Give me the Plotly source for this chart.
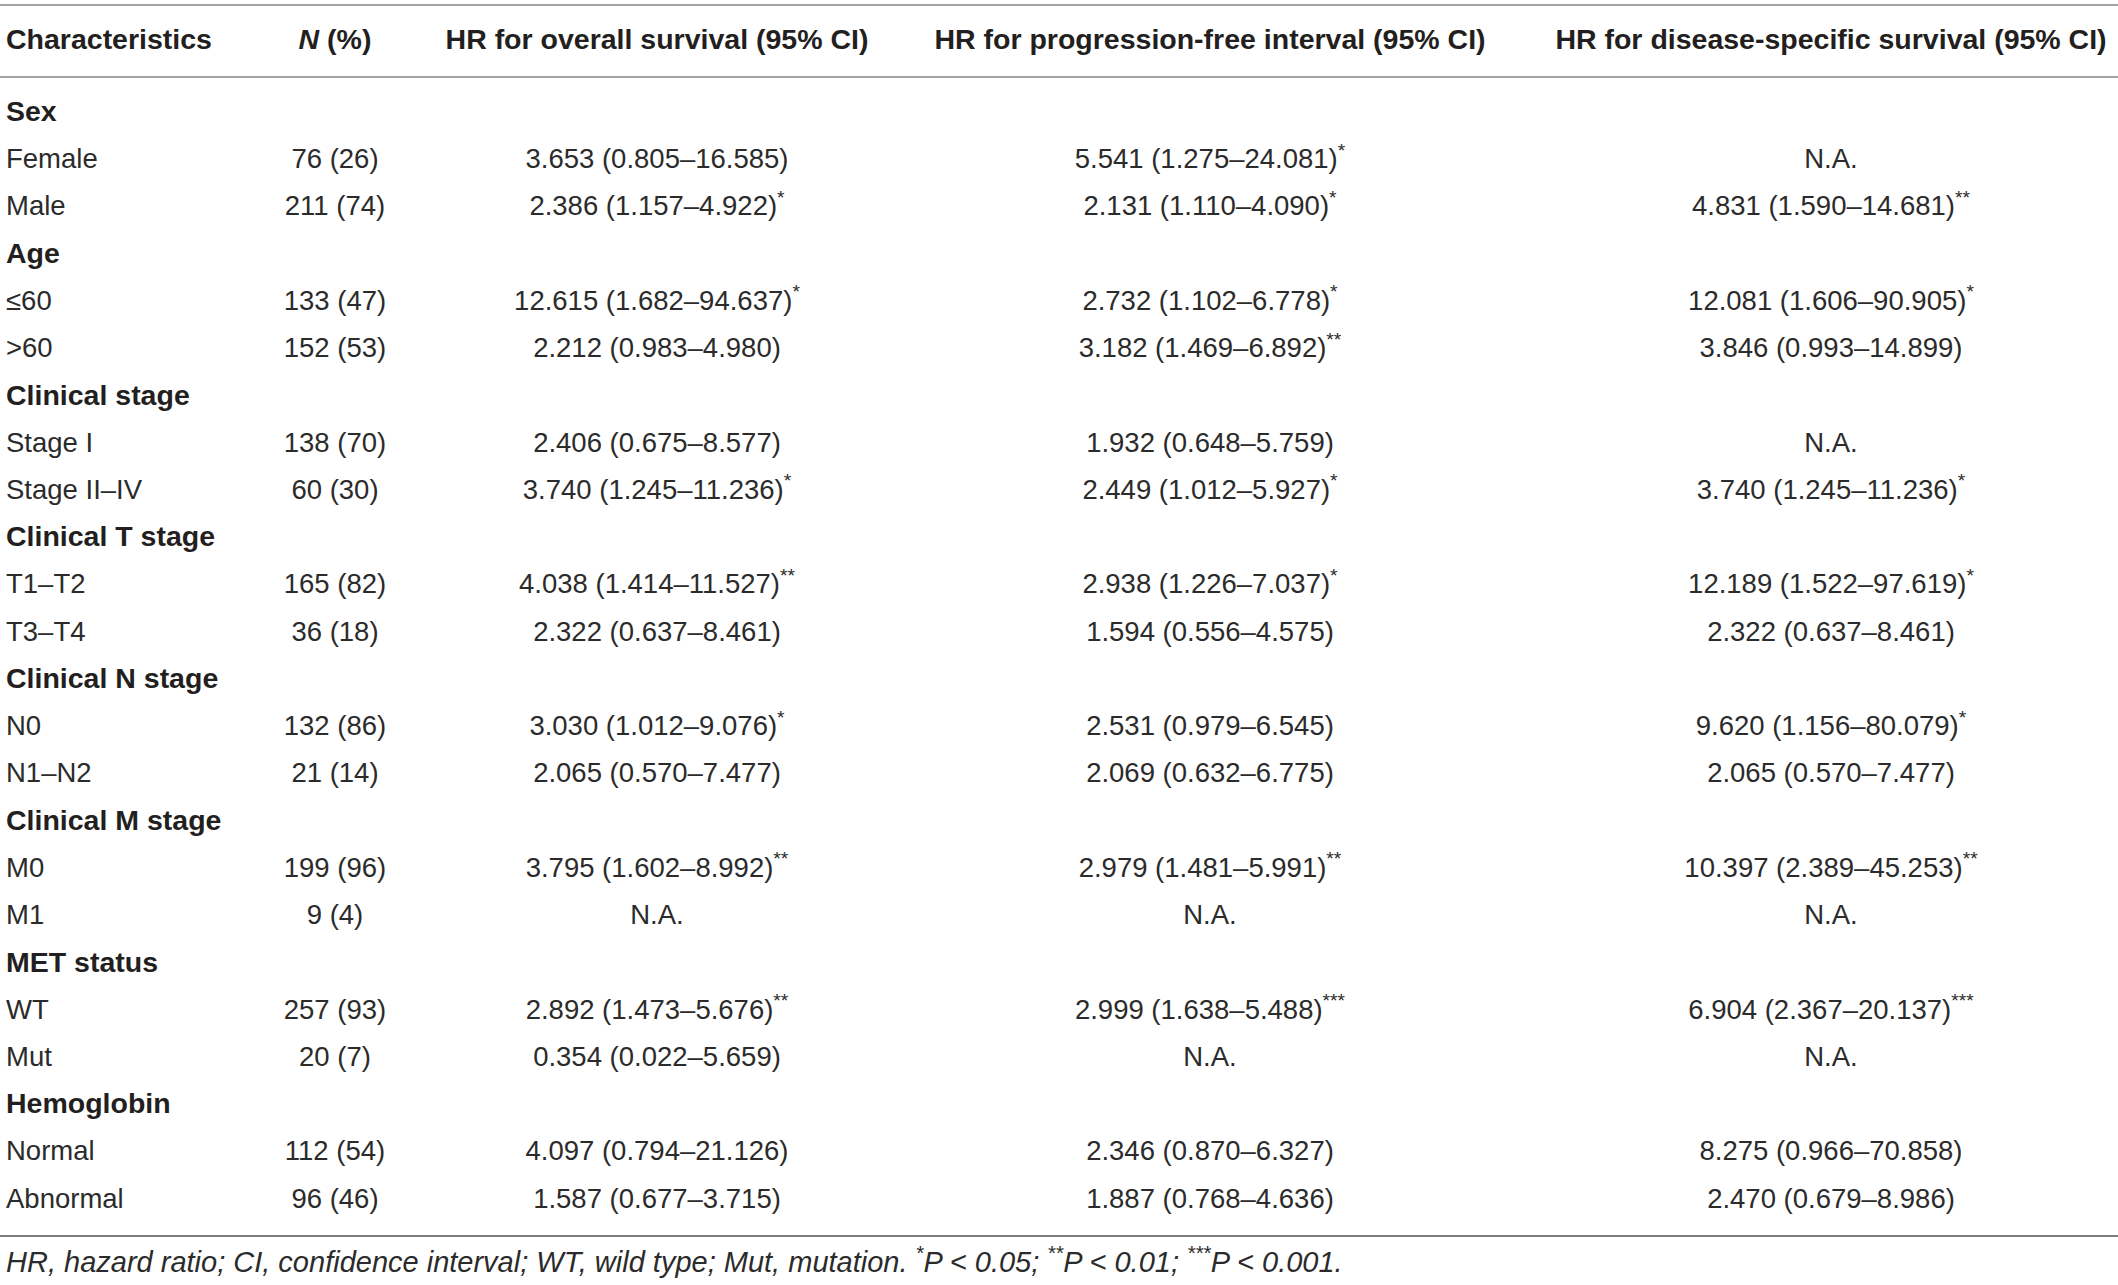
import plotly.graph_objects as go

# ---------------- data ----------------
headers = ["Characteristics", "<i>N</i> (%)", "HR for overall survival (95% CI)",
           "HR for progression-free interval (95% CI)", "HR for disease-specific survival (95% CI)"]

groups = ["Sex", "Age", "Clinical stage", "Clinical T stage", "Clinical N stage",
          "Clinical M stage", "MET status", "Hemoglobin"]
subgroups = [["Female", "Male"], ["≤60", ">60"], ["Stage I", "Stage II–IV"], ["T1–T2", "T3–T4"],
             ["N0", "N1–N2"], ["M0", "M1"], ["WT", "Mut"], ["Normal", "Abnormal"]]

n_count = [76, 211, 133, 152, 138, 60, 165, 36, 132, 21, 199, 9, 257, 20, 112, 96]
n_pct = [26, 74, 47, 53, 70, 30, 82, 18, 86, 14, 96, 4, 93, 7, 54, 46]

os_hr = ["3.653 (0.805–16.585)", "2.386 (1.157–4.922)", "12.615 (1.682–94.637)", "2.212 (0.983–4.980)",
         "2.406 (0.675–8.577)", "3.740 (1.245–11.236)", "4.038 (1.414–11.527)", "2.322 (0.637–8.461)",
         "3.030 (1.012–9.076)", "2.065 (0.570–7.477)", "3.795 (1.602–8.992)", "N.A.",
         "2.892 (1.473–5.676)", "0.354 (0.022–5.659)", "4.097 (0.794–21.126)", "1.587 (0.677–3.715)"]
os_sig = [0, 1, 1, 0, 0, 1, 2, 0, 1, 0, 2, 0, 2, 0, 0, 0]

pfi_hr = ["5.541 (1.275–24.081)", "2.131 (1.110–4.090)", "2.732 (1.102–6.778)", "3.182 (1.469–6.892)",
          "1.932 (0.648–5.759)", "2.449 (1.012–5.927)", "2.938 (1.226–7.037)", "1.594 (0.556–4.575)",
          "2.531 (0.979–6.545)", "2.069 (0.632–6.775)", "2.979 (1.481–5.991)", "N.A.",
          "2.999 (1.638–5.488)", "N.A.", "2.346 (0.870–6.327)", "1.887 (0.768–4.636)"]
pfi_sig = [1, 1, 1, 2, 0, 1, 1, 0, 0, 0, 2, 0, 3, 0, 0, 0]

dss_hr = ["N.A.", "4.831 (1.590–14.681)", "12.081 (1.606–90.905)", "3.846 (0.993–14.899)",
          "N.A.", "3.740 (1.245–11.236)", "12.189 (1.522–97.619)", "2.322 (0.637–8.461)",
          "9.620 (1.156–80.079)", "2.065 (0.570–7.477)", "10.397 (2.389–45.253)", "N.A.",
          "6.904 (2.367–20.137)", "N.A.", "8.275 (0.966–70.858)", "2.470 (0.679–8.986)"]
dss_sig = [0, 2, 1, 0, 0, 1, 1, 0, 1, 0, 2, 0, 3, 0, 0, 0]

footnote = ("<i>HR, hazard ratio; CI, confidence interval; WT, wild type; Mut, mutation. "
            "<sup>*</sup>P < 0.05; <sup>**</sup>P < 0.01; <sup>***</sup>P < 0.001.</i>")

# ---------------- layout constants ----------------
W, H = 2118, 1285
FONT = "Liberation Sans, Arial, sans-serif"
BODY = 27.5
HEAD = 28.5
FOOT = 29
TXT = "#231f20"
BODY_TXT = "#2b2b2b"
y_header = 42
y_first = 114
step = 47.25
col_x = [6, 335, 657, 1210, 1831]


def star(s, k):
    return s + ("<sup>" + "*" * k + "</sup>" if k else "")


# Build the row sequence
row_label, row_bold = [], []
for g, subs in zip(groups, subgroups):
    row_label.append(g); row_bold.append(True)
    for s in subs:
        row_label.append(s); row_bold.append(False)
row_y = [y_first + k * step for k in range(len(row_label))]

fig = go.Figure()

# header row
for k, htxt in enumerate(headers):
    fig.add_trace(go.Scatter(
        x=[col_x[k]], y=[y_header], mode="text", text=[htxt],
        textposition="middle right" if k == 0 else "middle center",
        textfont=dict(family=FONT, size=HEAD, color=TXT, weight="bold"),
        hoverinfo="skip", showlegend=False))

# group headers (bold)
gy = [y for y, b in zip(row_y, row_bold) if b]
gl = [l for l, b in zip(row_label, row_bold) if b]
fig.add_trace(go.Scatter(x=[col_x[0]] * len(gy), y=gy, mode="text", text=gl,
                         textposition="middle right",
                         textfont=dict(family=FONT, size=HEAD, color=TXT, weight="bold"),
                         hoverinfo="skip", showlegend=False))

# sub labels and values
sy = [y for y, b in zip(row_y, row_bold) if not b]
sl = [l for l, b in zip(row_label, row_bold) if not b]
fig.add_trace(go.Scatter(x=[col_x[0]] * len(sy), y=sy, mode="text", text=sl,
                         textposition="middle right",
                         textfont=dict(family=FONT, size=BODY, color=BODY_TXT),
                         hoverinfo="skip", showlegend=False))

cols = [
    [f"{n} ({p})" for n, p in zip(n_count, n_pct)],
    [star(s, k) for s, k in zip(os_hr, os_sig)],
    [star(s, k) for s, k in zip(pfi_hr, pfi_sig)],
    [star(s, k) for s, k in zip(dss_hr, dss_sig)],
]
for c, texts in enumerate(cols):
    fig.add_trace(go.Scatter(x=[col_x[c + 1]] * len(sy), y=sy, mode="text", text=texts,
                             textposition="middle center",
                             textfont=dict(family=FONT, size=BODY, color=BODY_TXT),
                             hoverinfo="skip", showlegend=False))

# footnote
fig.add_trace(go.Scatter(x=[col_x[0]], y=[1265], mode="text", text=[footnote],
                         textposition="middle right",
                         textfont=dict(family=FONT, size=FOOT, color=BODY_TXT),
                         hoverinfo="skip", showlegend=False))

# rules
for yv, col in [(5, "#a3a3a3"), (77, "#a3a3a3"), (1236, "#7d7d7d")]:
    fig.add_shape(type="line", xref="x", yref="y", x0=0, x1=W, y0=yv, y1=yv,
                  line=dict(color=col, width=2.2))

fig.update_layout(
    width=W, height=H, margin=dict(l=0, r=0, t=0, b=0),
    paper_bgcolor="white", plot_bgcolor="white",
    xaxis=dict(range=[0, W], visible=False, fixedrange=True),
    yaxis=dict(range=[H, 0], visible=False, fixedrange=True),
)

fig.write_html(
    "out.html",
    config={"displayModeBar": False},
    post_script="document.body.style.margin='0';document.body.style.overflow='hidden';",
)
